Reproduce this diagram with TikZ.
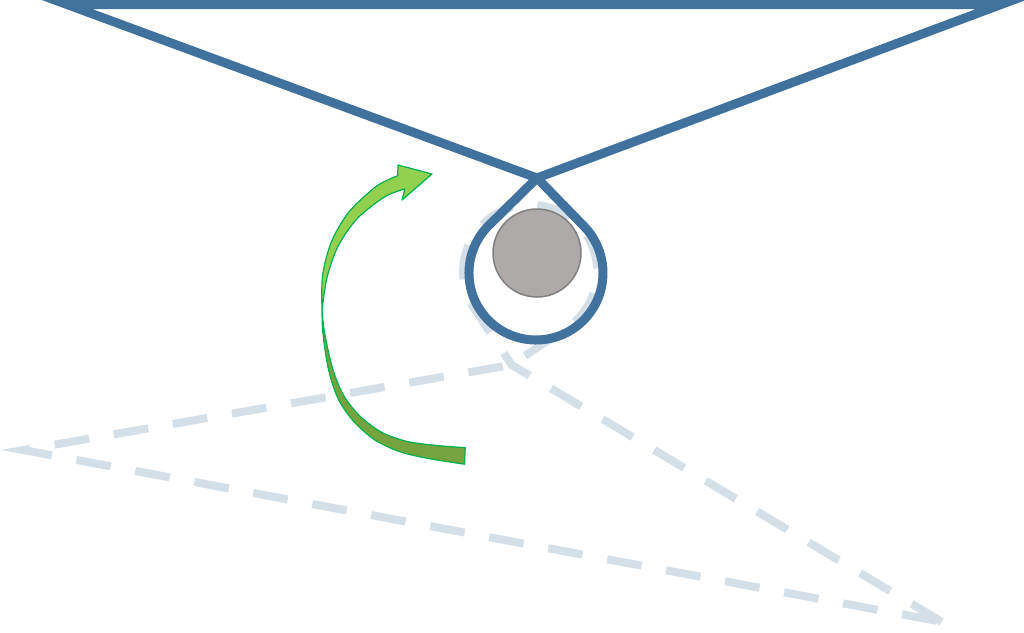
\documentclass[tikz,border=0pt]{standalone}
\definecolor{beltblue}{RGB}{65,113,157}
\definecolor{beltghost}{RGB}{213,223,232}
\definecolor{pulleyfill}{RGB}{174,170,169}
\definecolor{pulleyline}{RGB}{128,128,128}
\definecolor{arrowlight}{RGB}{146,208,80}
\definecolor{arrowdark}{RGB}{117,164,62}
\definecolor{arrowline}{RGB}{0,176,80}
\tikzset{
  beltsolid/.style={draw=beltblue,line width=9pt,line join=miter},
  beltdashed/.style={draw=beltghost,line width=8pt,line join=miter,dash pattern=on 35pt off 25pt},
  pulleystyle/.style={fill=pulleyfill,draw=pulleyline,line width=1.5pt},
  arrowedge/.style={draw=arrowline,line width=1.2pt,line join=round},
}
\def\beltpath{(67,4.5) -- (537,178) -- (584,226.3) arc[start angle=-44.2,end angle=225.4,radius=67] -- (537,178) -- (1001,4.5) -- cycle}
\begin{document}
\begin{tikzpicture}[x=1pt,y=-1pt]
\clip (0,0) rectangle (1024,632);
\fill[white] (0,0) rectangle (1024,632);
% ghost (previous) position of the belt
\begin{scope}[rotate around={169.4:(533,272.6)}]
  \path[beltdashed] \beltpath;
\end{scope}
% green curved arrow: back (dark) lobe
\filldraw[arrowedge,fill=arrowdark]
  plot[smooth] coordinates {(464.6,464.2) (430.1,458.8) (400.7,452.0) (375.3,440.3) (354.1,421.9) (339.5,401.4) (331.4,380.6) (326.5,359.4) (322.7,330.7) (322,310)}
  -- plot[smooth] coordinates {(322,310) (324.2,330.5) (329.9,358.3) (335.9,378.3) (344.9,397.6) (360,416.2) (381.3,432.1) (406.0,441.2) (433.8,445.2) (465.2,447.7)}
  -- cycle;
% green curved arrow: front (light) lobe with head
\filldraw[arrowedge,fill=arrowlight]
  plot[smooth] coordinates {(322,310) (322.5,276.0) (331.2,242.3) (348.9,212.0) (376.6,186.1) (397.7,175.7)}
  -- (398,165) -- (432,174) -- (402,200) -- (404.8,188.9)
  -- plot[smooth] coordinates {(404.8,188.9) (384.7,196.8) (357.2,218.6) (338.3,245.7) (327.1,277.0) (322,310)}
  -- cycle;
% belt in its current position
\path[beltsolid] \beltpath;
% pulley
\path[pulleystyle] (537,253) circle[radius=44];
\end{tikzpicture}
\end{document}
